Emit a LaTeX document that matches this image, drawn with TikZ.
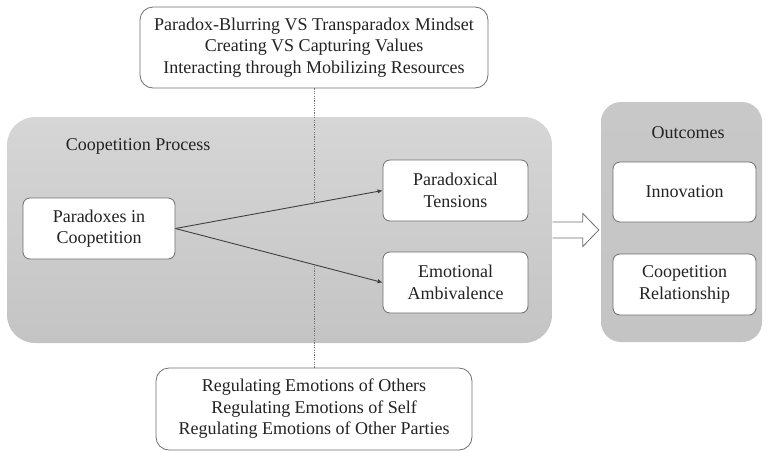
\documentclass[tikz,border=0pt]{standalone}
\usepackage{fontspec}
\setmainfont{Liberation Serif}
\usetikzlibrary{arrows.meta,calc}
\definecolor{txt}{RGB}{35,35,35}
\definecolor{bord}{RGB}{110,110,110}
\definecolor{gtop}{RGB}{214,214,214}
\definecolor{gbot}{RGB}{196,196,196}
\definecolor{gout}{RGB}{200,200,200}
\tikzset{
  every node/.style={text=txt, font=\fontsize{18}{21.5}\selectfont},
  whitebox/.style={draw=bord, line width=0.8pt, fill=white, rounded corners=7pt, align=center, inner sep=0pt},
  factorbox/.style={draw=bord, line width=0.8pt, fill=white, rounded corners=13pt, align=center, inner sep=0pt},
  panel/.style={rounded corners=#1, inner sep=0pt},
  link/.style={draw=black!75, line width=0.9pt, -{Latex[length=5pt,width=4.5pt]}},
  moderator/.style={draw=black!55, line width=0.7pt, dash pattern=on 1.2pt off 1.2pt},
  blockarrow/.style={draw=bord, fill=white, line width=0.8pt, line join=miter},
}
\begin{document}
\begin{tikzpicture}[x=1pt,y=-1pt]
\useasboundingbox (0,0) rectangle (766,451);
% panels
\node[panel=28pt, top color=gtop, bottom color=gbot, minimum width=545pt, minimum height=226pt] (proc) at (279.5,230) {};
\node[panel=20pt, top color=gout, bottom color=gbot, minimum width=161pt, minimum height=240pt] (out) at (681.5,222) {};
\node (proctitle) at (138,146) {Coopetition Process};
\node (outtitle) at (688,133) {Outcomes};
% factor boxes
\node[factorbox, minimum width=348pt, minimum height=81pt] (top) at (314,47.5)
  {Paradox-Blurring VS Transparadox Mindset\\Creating VS Capturing Values\\Interacting through Mobilizing Resources};
\node[factorbox, minimum width=316pt, minimum height=82pt] (bot) at (314,409)
  {Regulating Emotions of Others\\Regulating Emotions of Self\\Regulating Emotions of Other Parties};
% inner boxes
\node[whitebox, minimum width=152pt, minimum height=61pt] (par) at (99,228.5) {Paradoxes in\\Coopetition};
\node[whitebox, minimum width=145pt, minimum height=61pt] (ten) at (455.5,190.5) {Paradoxical\\Tensions};
\node[whitebox, minimum width=145pt, minimum height=61pt] (amb) at (455.5,282.5) {Emotional\\Ambivalence};
\node[whitebox, minimum width=143pt, minimum height=60pt] (inn) at (684.5,192) {Innovation};
\node[whitebox, minimum width=143pt, minimum height=61pt] (rel) at (684.5,284.5) {Coopetition\\Relationship};
% connectors
\draw[link] (par.east) -- coordinate[pos=0.667] (m1) (ten.west);
\draw[link] (par.east) -- coordinate[pos=0.69] (m2) (amb.west);
\draw[moderator] (top.south) -- (top.south |- m1);
\draw[moderator] (bot.north) -- (bot.north |- m2);
% block arrow from process panel to outcomes panel
\coordinate (bas) at ($(proc.east)+(0.5,0)$);
\coordinate (tip) at ($(out.west |- proc.east)+(-2,0)$);
\filldraw[blockarrow] ($(bas)+(0,-8)$) -- ($(tip)+(-16,-8)$) -- ($(tip)+(-16,-16.5)$) -- (tip)
  -- ($(tip)+(-16,16.5)$) -- ($(tip)+(-16,8)$) -- ($(bas)+(0,8)$);
\end{tikzpicture}
\end{document}
